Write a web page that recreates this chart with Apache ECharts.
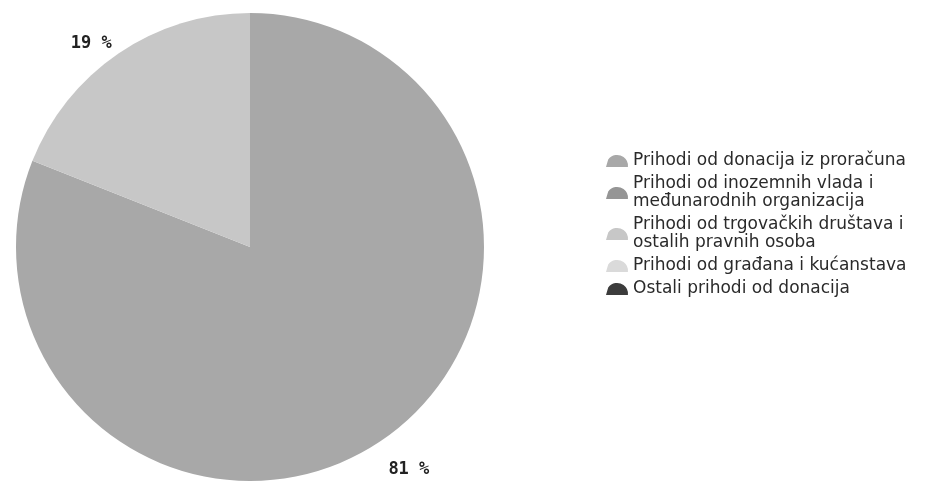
<!DOCTYPE html>
<html>
<head>
<meta charset="utf-8">
<script src="https://cdn.jsdelivr.net/npm/echarts@6/dist/echarts.min.js"></script>
<style>
  html, body { margin: 0; padding: 0; background: #fff; }
  #chart { width: 927px; height: 486px; }
</style>
</head>
<body>
<div id="chart"></div>
<script>
// kategorije prihoda od donacija
const categories = [
  "Prihodi od donacija iz proračuna",
  "Prihodi od inozemnih vlada i\nmeđunarodnih organizacija",
  "Prihodi od trgovačkih društava i\nostalih pravnih osoba",
  "Prihodi od građana i kućanstava",
  "Ostali prihodi od donacija",
];
// udio u %
const shares = [81, 0, 19, 0, 0];
const colors = ["#a8a8a8", "#959595", "#c7c7c7", "#dadada", "#3c3c3c"];

const chart = echarts.init(document.getElementById("chart"));

const seriesData = categories.map((name, i) => {
  return {
    name: name,
    value: shares[i],
    label: { show: shares[i] > 0 },
    labelLine: { show: false },
  };
});

chart.setOption({
  backgroundColor: "#fff",
  color: colors,
  animation: false,
  legend: {
    orient: "vertical",
    left: 601,
    top: 147,
    itemWidth: 22,
    itemHeight: 14,
    itemGap: 5,
    icon: "path://M0,20 L4,6 A20,20 0 0 1 40,20 Z",
    textStyle: {
      fontFamily: "DejaVu Sans",
      fontSize: 17,
      lineHeight: 18,
      color: "#2a2a2a",
    },
    data: categories,
  },
  series: [
    {
      type: "pie",
      center: [250, 247],
      radius: 234,
      startAngle: 90,
      clockwise: true,
      itemStyle: { borderWidth: 0 },
      label: {
        position: "outside",
        formatter: "{c} %",
        fontFamily: "DejaVu Sans Mono",
        fontWeight: "bold",
        fontSize: 17,
        color: "#222",
      },
      labelLine: { length: 30, length2: 0 },
      // malo pomakni natpise kao na originalu
      labelLayout: (params) => {
        if (params.dataIndex === 2) {
          return { dx: 15, dy: 15 };
        }
        return { dx: -15, dy: 4 };
      },
      emphasis: { disabled: true },
      data: seriesData,
    },
  ],
});
</script>
</body>
</html>
